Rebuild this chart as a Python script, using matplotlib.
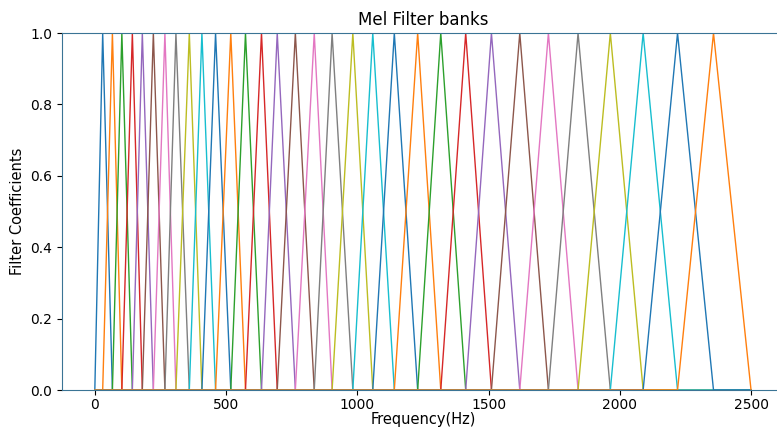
import numpy as np
import matplotlib
matplotlib.use("Agg")
import matplotlib.pyplot as plt

# triangle corner frequencies (Hz): edges plus the 32 filter centres
points = [0, 30, 67, 103, 143, 181, 223, 267, 309, 360, 408, 460, 518, 574,
          635, 695, 764, 836, 904, 983, 1059, 1141, 1230, 1318, 1413, 1511,
          1619, 1728, 1841, 1964, 2089, 2220, 2357, 2500]
nfilt = len(points) - 2

# filter bank matrix, one row per filter, sampled at the corner points
fbank = np.zeros((nfilt, len(points)))
for m in range(nfilt):
    fbank[m, m + 1] = 1.0

fig = plt.figure(figsize=(7.77, 4.30), dpi=100)
ax = fig.add_axes([0.0798, 0.093, 0.929, 0.830])

for m in range(nfilt):
    ax.plot(points, fbank[m], lw=1.0)

ax.set_xlim(-125, 2625)
ax.set_ylim(0, 1)
ax.set_title('Mel Filter banks', fontsize=12)
ax.set_xlabel('Frequency(Hz)', fontsize=10.5, labelpad=0)
ax.set_ylabel('Filter Coefficients', fontsize=10.5)
ax.tick_params(labelsize=10)
ax.tick_params(axis='x', pad=2)
for s in ax.spines.values():
    s.set_color('#3a7495')

fig.savefig('out.png', dpi=100)
